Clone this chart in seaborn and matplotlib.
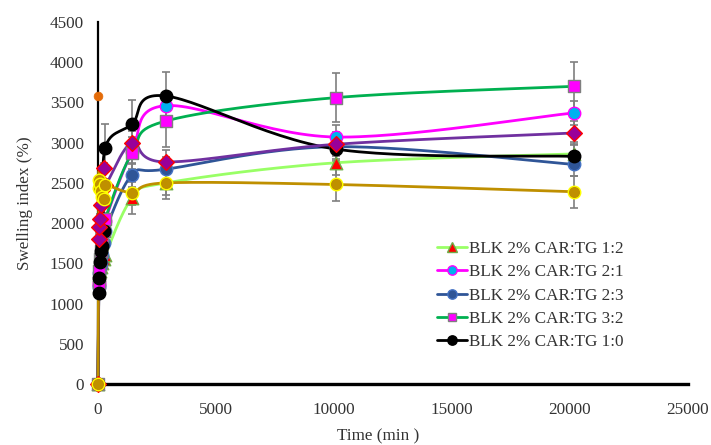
import numpy as np
import matplotlib
matplotlib.use("Agg")
import matplotlib.pyplot as plt
from matplotlib.lines import Line2D
import seaborn as sns

# time points (min)
time = [0, 30, 60, 90, 120, 180, 240, 300, 1440, 2880, 10080, 20160]

# swelling index (%) per formulation
s_12 = [0, 1300, 1350, 1400, 1450, 1500, 1560, 1600, 2310, 2500, 2750, 2860]
s_21 = [0, 1230, 1250, 1450, 1600, 1750, 1900, 2030, 2880, 3460, 3070, 3370]
s_23 = [0, 1200, 1380, 1450, 1500, 1600, 1750, 1900, 2600, 2670, 2950, 2730]
s_32 = [0, 1250, 1400, 1550, 1650, 1750, 1900, 2050, 2870, 3270, 3560, 3700]
s_10 = [0, 1130, 1320, 1520, 1650, 1720, 1900, 2930, 3230, 3580, 2920, 2830]
s_pu = [0, 1800, 1950, 2050, 2220, 2410, 2690, 2470, 3000, 2760, 2980, 3120]
s_go = [0, 2440, 2530, 2480, 2400, 2330, 2300, 2470, 2380, 2500, 2480, 2390]
s_or_time = [0]
s_or = [3580]

# standard deviations
e_12 = [0, 60, 60, 60, 60, 60, 60, 80, 200, 150, 150, 150]
e_21 = [0, 60, 60, 60, 60, 60, 60, 80, 150, 150, 150, 150]
e_23 = [0, 60, 60, 60, 60, 60, 60, 80, 150, 150, 150, 150]
e_32 = [0, 60, 60, 60, 60, 60, 60, 80, 200, 320, 300, 300]
e_10 = [0, 60, 60, 60, 60, 60, 60, 300, 300, 300, 150, 150]
e_pu = [0, 60, 60, 60, 60, 60, 60, 80, 150, 150, 150, 150]
e_go = [0, 60, 60, 60, 60, 60, 60, 80, 150, 200, 200, 200]

labels = ["BLK 2% CAR:TG 1:2", "BLK 2% CAR:TG 2:1", "BLK 2% CAR:TG 2:3",
          "BLK 2% CAR:TG 3:2", "BLK 2% CAR:TG 1:0"]

sns.set_style("white")
plt.rcParams["font.family"] = ["Liberation Serif", "DejaVu Serif"]
FS = 12.3

fig = plt.figure(figsize=(7.11, 4.45), dpi=100)
ax = fig.add_axes([98 / 711, 1 - 384 / 445, 590 / 711, 362 / 445])

XMAX, YMAX = 25000, 4500
PX_X, PX_Y = 590 / XMAX, 362 / YMAX


def smooth(xs, ys, n=30):
    # Excel-like smoothed line (bezier through points, in pixel space)
    P = np.column_stack([np.asarray(xs, float) * PX_X, np.asarray(ys, float) * PX_Y])
    out = [P[0]]
    t = np.linspace(0, 1, n)[1:, None]
    for i in range(len(P) - 1):
        p0 = P[i - 1] if i > 0 else P[i]
        p1, p2 = P[i], P[i + 1]
        p3 = P[i + 2] if i + 2 < len(P) else P[i + 1]
        c1 = p1 + (p2 - p0) / 6
        c2 = p2 - (p3 - p1) / 6
        seg = ((1 - t) ** 3) * p1 + 3 * ((1 - t) ** 2) * t * c1 + 3 * (1 - t) * t ** 2 * c2 + t ** 3 * p2
        out.extend(seg)
    out = np.array(out)
    return out[:, 0] / PX_X, out[:, 1] / PX_Y


series = [
    (s_12, e_12, "#99FF66", "^", "#FF0000", "#70AD47", 9),
    (s_21, e_21, "#FF00FF", "o", "#00B0F0", "#FF00FF", 9),
    (s_23, e_23, "#2F5597", "o", "#2F5597", "#4472C4", 9),
    (s_32, e_32, "#00B050", "s", "#FF00FF", "#7F7F7F", 8),
    (s_10, e_10, "#000000", "o", "#000000", "#000000", 9),
    (s_pu, e_pu, "#7030A0", "D", "#990099", "#FF0000", 8),
    (s_go, e_go, "#BF8F00", "o", "#BF9000", "#FFFF00", 9),
]

for vals, errs, lc, mk, fc, ec, ms in series:
    ax.errorbar(time, vals, yerr=errs, fmt="none", ecolor="#7F7F7F",
                elinewidth=1.2, capsize=3, capthick=1.2, zorder=2, clip_on=False)

for vals, errs, lc, mk, fc, ec, ms in series:
    sx, sy = smooth(time, vals)
    ax.plot(sx, sy, color=lc, lw=2.0, zorder=3, clip_on=False)
    sns.scatterplot(x=time, y=vals, marker=mk, s=ms ** 2, color=fc,
                    edgecolor=ec, linewidth=1.0, zorder=4, clip_on=False, ax=ax)

sns.scatterplot(x=s_or_time, y=s_or, marker="o", s=40, color="#E46C0A",
                edgecolor="#E46C0A", zorder=4, clip_on=False, ax=ax)

ax.set_xlim(0, XMAX)
ax.set_ylim(0, YMAX)
ax.set_xticks(range(0, 25001, 5000))
ax.set_yticks(range(0, 4501, 500))
ax.tick_params(axis="both", length=0, labelsize=FS, colors="#333333")
ax.tick_params(axis="x", pad=13)
ax.tick_params(axis="y", pad=10)

for s in ["top", "right"]:
    ax.spines[s].set_visible(False)
ax.spines["bottom"].set_linewidth(2.4)
ax.spines["bottom"].set_color("black")
ax.spines["left"].set_linewidth(1.6)
ax.spines["left"].set_color("black")

ax.set_xlabel("Time (min )", fontsize=FS, color="#333333")
ax.xaxis.set_label_coords((378 - 98) / 590, -(436 - 384) / 362, transform=ax.transAxes)
ax.xaxis.label.set_va("center")
ax.set_ylabel("Swelling index (%)", fontsize=FS, color="#333333", labelpad=12)

handles = []
for (vals, errs, lc, mk, fc, ec, ms), lab in zip(series[:5], labels):
    handles.append(Line2D([], [], color=lc, lw=2, marker=mk, markersize=ms * 0.75,
                          markerfacecolor=fc, markeredgecolor=ec, label=lab))
fig.legend(handles=handles, loc="upper left", bbox_to_anchor=(437 / 711, 1 - 241 / 445),
           frameon=False, fontsize=FS, handlelength=1.75, handletextpad=0.1,
           labelspacing=0.43, borderpad=0, borderaxespad=0, labelcolor="#333333")

fig.savefig("out.png", dpi=100)
